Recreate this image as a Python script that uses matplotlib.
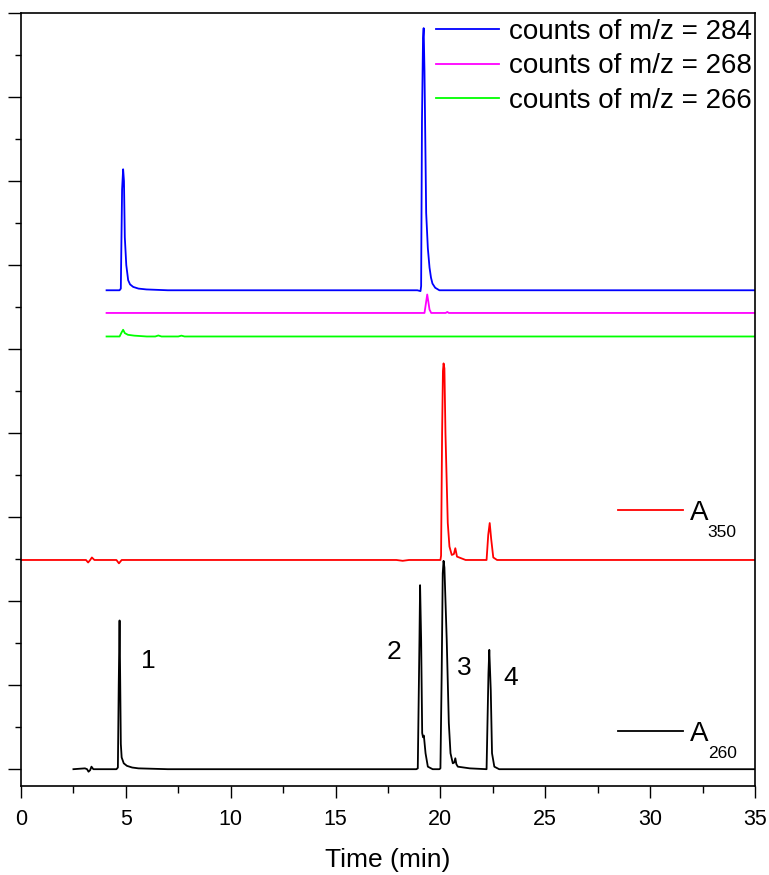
import matplotlib
matplotlib.use("Agg")
import matplotlib.pyplot as plt
from matplotlib.ticker import MultipleLocator, NullFormatter

plt.rcParams['font.family'] = ['Liberation Sans', 'DejaVu Sans']

# A260 trace (black), values above its own baseline
t260 = [2.5, 3.05, 3.15, 3.22, 3.3, 3.36, 3.45, 4.55, 4.62, 4.66,
        4.7, 4.73, 4.76, 4.8, 4.9, 5.05, 5.3, 5.6, 7.0, 18.85,
        18.92, 19.0, 19.03, 19.08, 19.13, 19.17, 19.21, 19.29, 19.4, 19.63,
        19.95, 20.0, 20.06, 20.11, 20.15, 20.19, 20.3, 20.4, 20.48, 20.59,
        20.66, 20.71, 20.76, 20.83, 21.4, 22.2, 22.29, 22.33, 22.4, 22.46,
        22.57, 22.8, 35.0]
a260 = [0.0, 0.01, 0.0, -0.03, -0.01, 0.03, 0.0, 0.0, 0.02, 1.0,
        1.77, 1.06, 0.3, 0.14, 0.07, 0.04, 0.02, 0.01, 0.0, 0.0,
        0.01, 1.54, 2.19, 1.54, 0.43, 0.38, 0.40, 0.19, 0.03, 0.0,
        0.0, 0.01, 1.14, 2.33, 2.48, 2.40, 1.54, 0.55, 0.19, 0.07,
        0.08, 0.13, 0.06, 0.03, 0.01, 0.0, 1.14, 1.42, 0.94, 0.19,
        0.03, 0.0, 0.0]

# A350 trace (red)
t350 = [0.0, 1.5, 3.1, 3.2, 3.3, 3.38, 3.5, 4.55, 4.67, 4.8,
        7.5, 17.9, 18.2, 18.5, 20.0, 20.03, 20.08, 20.12, 20.15, 20.19,
        20.24, 20.35, 20.43, 20.54, 20.64, 20.71, 20.79, 21.2, 22.2, 22.28,
        22.35, 22.42, 22.52, 22.7, 35.0]
a350 = [0.0, 0.0, 0.0, -0.03, 0.0, 0.03, 0.0, 0.0, -0.04, 0.0,
        0.0, 0.0, -0.01, 0.0, 0.0, 0.05, 1.51, 2.25, 2.34, 2.28,
        1.51, 0.44, 0.16, 0.06, 0.07, 0.14, 0.04, 0.0, 0.0, 0.3,
        0.44, 0.25, 0.03, 0.0, 0.0]

# MS counts m/z = 284 (blue)
t284 = [4.08, 4.7, 4.76, 4.82, 4.87, 4.91, 4.95, 5.02, 5.11, 5.2,
        5.35, 5.6, 5.98, 7.0, 18.9, 19.05, 19.08, 19.12, 19.17, 19.2,
        19.24, 19.32, 19.4, 19.48, 19.55, 19.62, 19.75, 19.95, 35.0]
a284 = [0.0, 0.0, 0.02, 1.2, 1.44, 1.3, 0.63, 0.3, 0.12, 0.07,
        0.04, 0.02, 0.01, 0.0, 0.0, -0.01, 0.05, 2.02, 3.0, 3.12,
        2.6, 0.92, 0.5, 0.27, 0.15, 0.08, 0.03, 0.0, 0.0]

# MS counts m/z = 268 (magenta)
t268 = [4.08, 19.24, 19.3, 19.37, 19.42, 19.48, 19.56, 20.25, 20.33, 20.4, 35.0]
a268 = [0.0, 0.0, 0.1, 0.22, 0.14, 0.04, 0.0, 0.0, 0.012, 0.0, 0.0]

# MS counts m/z = 266 (green)
t266 = [4.08, 4.7, 4.8, 4.87, 4.95, 5.1, 5.4, 6.0, 6.4, 6.55,
        6.7, 7.0, 7.5, 7.65, 7.8, 35.0]
a266 = [0.0, 0.0, 0.05, 0.08, 0.04, 0.02, 0.01, 0.0, 0.0, 0.012,
        0.0, 0.0, 0.0, 0.01, 0.0, 0.0]

# vertical stacking of the traces
offsets = {'260': 0.0, '350': 2.49, '266': 5.15, '268': 5.43, '284': 5.70}

# peak numbers
peak_labels = ['1', '2', '3', '4']
label_t = [6.05, 17.8, 21.14, 23.33]
label_y = [1.29, 1.39, 1.21, 1.09]

fig = plt.figure(figsize=(7.69, 8.75), dpi=100)
ax = fig.add_axes([21 / 769, 89 / 875, 734 / 769, 773 / 875])

lw = 1.3
l284, = ax.plot(t284, [v + offsets['284'] for v in a284], color='#0000ff', lw=lw)
l268, = ax.plot(t268, [v + offsets['268'] for v in a268], color='#ff00ff', lw=lw)
l266, = ax.plot(t266, [v + offsets['266'] for v in a266], color='#00ff00', lw=lw)
l350, = ax.plot(t350, [v + offsets['350'] for v in a350], color='#ff0000', lw=lw)
l260, = ax.plot(t260, [v + offsets['260'] for v in a260], color='black', lw=lw)

for lab, tx, ty in zip(peak_labels, label_t, label_y):
    ax.text(tx, ty, lab, fontsize=19, ha='center', va='center')

ax.set_xlim(0, 35)
ax.set_ylim(-0.2, 9.0)
ax.xaxis.set_major_locator(MultipleLocator(5))
ax.xaxis.set_minor_locator(MultipleLocator(2.5))
ax.yaxis.set_major_locator(MultipleLocator(1))
ax.yaxis.set_minor_locator(MultipleLocator(0.5))
ax.yaxis.set_major_formatter(NullFormatter())
ax.tick_params(axis='both', which='both', direction='out', width=1.0,
               top=False, right=False)
ax.tick_params(axis='x', which='major', length=8.5, labelsize=15.5, pad=8)
ax.tick_params(axis='x', which='minor', length=5)
ax.tick_params(axis='y', which='major', length=9.5)
ax.tick_params(axis='y', which='minor', length=4.5)
for s in ax.spines.values():
    s.set_linewidth(1.2)
ax.set_xlabel('Time (min)', fontsize=19, labelpad=13)

# MS legend, upper right
leg1 = ax.legend([l284, l268, l266],
                 ['counts of m/z = 284', 'counts of m/z = 268', 'counts of m/z = 266'],
                 loc='upper right', bbox_to_anchor=(0.9959, 0.9923),
                 frameon=False, fontsize=20, handlelength=2.27, handletextpad=0.36,
                 labelspacing=0.3, borderpad=0, borderaxespad=0)
ax.add_artist(leg1)

# UV trace legends
leg2 = ax.legend([l350], ['A'], loc='center left', bbox_to_anchor=(0.8134, 0.3532),
                 frameon=False, fontsize=20, handlelength=2.34, handletextpad=0.25,
                 borderpad=0, borderaxespad=0)
ax.add_artist(leg2)
leg3 = ax.legend([l260], ['A'], loc='center left', bbox_to_anchor=(0.8134, 0.0673),
                 frameon=False, fontsize=20, handlelength=2.34, handletextpad=0.25,
                 borderpad=0, borderaxespad=0)

fig.canvas.draw()
for lg, sub in [(leg2, '350'), (leg3, '260')]:
    ax.annotate(sub, xy=(1, 0), xycoords=lg.get_texts()[0], xytext=(-0.5, 1),
                textcoords='offset points', ha='left', va='top', fontsize=12.5,
                zorder=6)

fig.savefig('out.png', dpi=100)
